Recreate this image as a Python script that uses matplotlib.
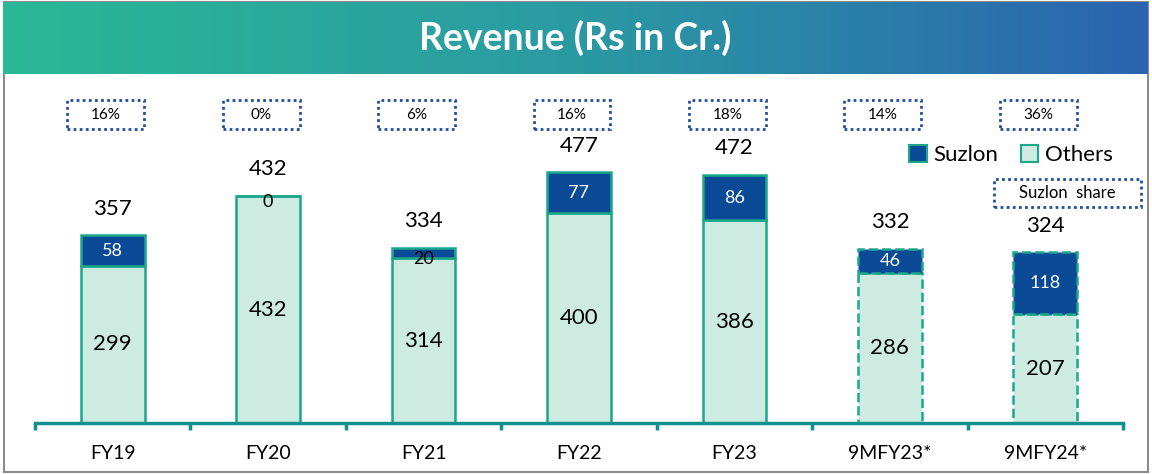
import matplotlib
matplotlib.use('Agg')
import matplotlib.pyplot as plt
import numpy as np
from matplotlib.patches import Rectangle, Patch
from matplotlib.colors import LinearSegmentedColormap

plt.rcParams['font.family'] = ['Lato', 'DejaVu Sans']

# data
categories = ['FY19', 'FY20', 'FY21', 'FY22', 'FY23', '9MFY23*', '9MFY24*']
suzlon = [58, 0, 20, 77, 86, 46, 118]
others = [299, 432, 314, 400, 386, 286, 207]
totals = [357, 432, 334, 477, 472, 332, 324]
suzlon_share = ['16%', '0%', '6%', '16%', '18%', '14%', '36%']

W, H = 1152, 474
teal = '#12908E'
edge = '#1BA88A'
fill = '#CDEBE1'
navy = '#0B4A97'
dotblue = '#1F4E9A'

fig = plt.figure(figsize=(W / 100, H / 100), dpi=100)

# title banner with gradient
bax = fig.add_axes([3 / W, 1 - 74 / H, 1145 / W, 72 / H])
grad = np.linspace(0, 1, 256).reshape(1, -1)
cmap = LinearSegmentedColormap.from_list('banner', ['#2BB896', '#2A9AA2', '#2B64B0'])
bax.imshow(grad, aspect='auto', cmap=cmap, extent=[0, 1, 0, 1])
bax.set_xlim(0, 1)
bax.set_ylim(0, 1)
bax.axis('off')
bax.text(0.5, 0.5, 'Revenue (Rs in Cr.)', color='white', fontsize=27, fontweight='bold',
         ha='center', va='center')

# main axes: x from 35px to 1123px, baseline at 423px
ax = fig.add_axes([35 / W, 51 / H, 1088 / W, 343 / H])
ax.set_xlim(-0.5, 6.5)
ax.set_ylim(0, 653)
ax.patch.set_alpha(0)

x = np.arange(len(categories))
width = 0.41
for i in x:
    ls = '--' if i >= 5 else '-'
    ax.bar(i, others[i], width, color=fill, edgecolor=edge, linewidth=1.8, linestyle=ls, zorder=2)
    ax.bar(i, suzlon[i], width, bottom=others[i], color=navy, edgecolor=edge,
           linewidth=1.8, linestyle=ls, zorder=2)
    ax.text(i, others[i] / 2, str(others[i]), ha='center', va='center', fontsize=16, zorder=3)
    if suzlon[i] >= 30:
        ax.text(i, others[i] + suzlon[i] / 2, str(suzlon[i]), ha='center', va='center',
                fontsize=13, color='white', zorder=3)
    else:
        ax.text(i, others[i] + suzlon[i] / 2 - 12, str(suzlon[i]), ha='center', va='center',
                fontsize=13, color='black', zorder=3)
    ax.text(i, totals[i] + 51, str(totals[i]), ha='center', va='center', fontsize=16)
    # share boxes
    ax.add_patch(Rectangle((i - 0.045 - 0.2475, 560), 0.495, 55, fill=False, edgecolor=dotblue,
                           linestyle=(0, (1, 1.2)), linewidth=2, clip_on=False))
    ax.text(i - 0.045, 587, suzlon_share[i], ha='center', va='center', fontsize=11)

# "Suzlon share" box
ax.add_patch(Rectangle((5.667, 411), 0.952, 53, fill=False, edgecolor=dotblue,
                       linestyle=(0, (1, 1.2)), linewidth=2, clip_on=False))
ax.text(6.143, 438, 'Suzlon  share', ha='center', va='center', fontsize=12, clip_on=False)

for s in ['top', 'left', 'right']:
    ax.spines[s].set_visible(False)
ax.spines['bottom'].set_color(teal)
ax.spines['bottom'].set_linewidth(2.5)
ax.set_yticks([])
ax.set_xticks(x)
ax.set_xticklabels(categories, fontsize=14)
ax.tick_params(axis='x', which='major', length=0, pad=16)
ax.set_xticks(np.arange(-0.5, 7, 1), minor=True)
ax.tick_params(axis='x', which='minor', length=5, width=2.5, color=teal, direction='out')

handles = [Patch(facecolor=navy, edgecolor=edge, linewidth=1.5, label='Suzlon'),
           Patch(facecolor=fill, edgecolor=edge, linewidth=1.5, label='Others')]
fig.legend(handles=handles, loc='center', bbox_to_anchor=(1011 / W, 1 - 155 / H),
           ncol=2, frameon=False, fontsize=16, handlelength=0.8, handleheight=0.8,
           handletextpad=0.3, columnspacing=1.0)

# outer border
fig.add_artist(Rectangle((4 / W, 2 / H), 1144 / W, 470 / H, transform=fig.transFigure,
                         fill=False, edgecolor='#8C8C8C', linewidth=1.5, zorder=0))

fig.savefig('out.png', dpi=100)
